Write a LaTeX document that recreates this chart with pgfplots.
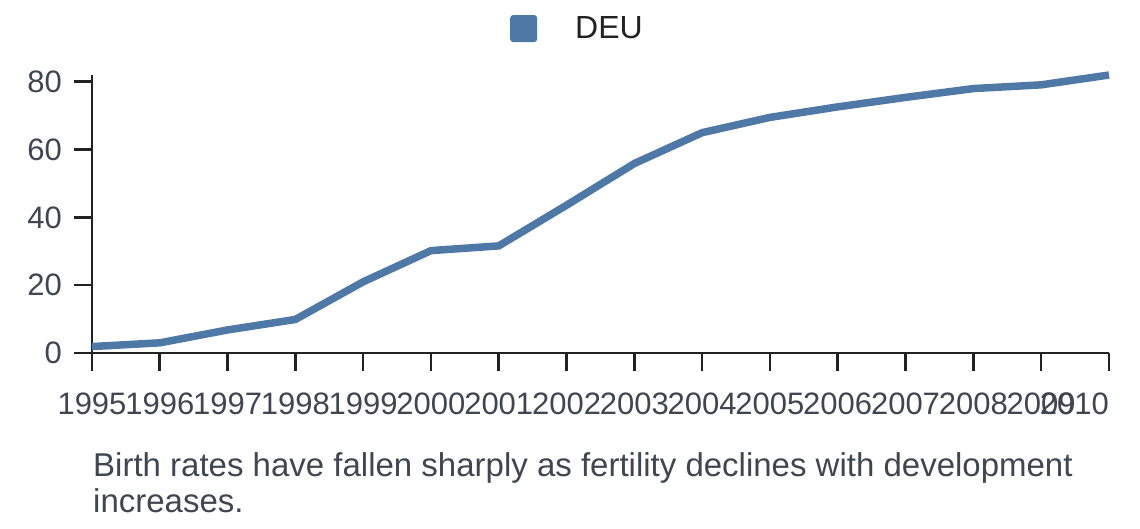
\documentclass[border=0pt]{standalone}
\usepackage{pgfplots}
\pgfplotsset{compat=1.18}
\usepackage{fontspec}
\setmainfont{Liberation Sans}
\definecolor{lineblue}{HTML}{4E79A7}
\definecolor{ticktext}{HTML}{3F4652}
\definecolor{axisdark}{HTML}{222222}
\begin{document}
\begin{tikzpicture}
\begin{axis}[
  scale only axis,
  width=1017pt, height=278pt,
  at={(0pt,0pt)}, anchor=south west,
  xmin=1995, xmax=2010, ymin=0, ymax=82,
  axis x line=bottom, axis y line=left,
  axis line style={-, line width=2.6pt, draw=axisdark},
  xtick={1995,...,2010},
  xticklabels={1995,1996,1997,1998,1999,2000,2001,2002,2003,2004,2005,2006,2007,2008,2009,\makebox[0pt][r]{2010}},
  ytick={0,20,40,60,80},
  tick align=outside,
  major tick length=18pt,
  tick style={line width=2.6pt, draw=axisdark},
  /pgf/number format/assume math mode=true,
  tick label style={font=\fontsize{31}{37}\selectfont, text=ticktext},
  xticklabel style={inner sep=0pt, yshift=-22pt},
  yticklabel style={inner sep=0pt, xshift=-12pt},
  legend style={draw=none, fill=none, at={(0.411,1.167)}, anchor=west,
    font=\fontsize{32}{38}\selectfont, text=axisdark, inner sep=0pt,
    nodes={inner sep=0pt}, /tikz/every odd column/.append style={column sep=38pt}},
  legend image code/.code={\fill[draw=none, rounded corners=3pt] (0pt,-13.5pt) rectangle (27pt,13.5pt);},
  clip=false,
]
\addplot[color=lineblue, line width=7.5pt] coordinates {
(1995,1.9) (1996,3.0) (1997,6.8) (1998,9.9) (1999,21.0) (2000,30.2) (2001,31.6)
(2002,43.6) (2003,55.9) (2004,65.0) (2005,69.5) (2006,72.6) (2007,75.4)
(2008,78.0) (2009,79.1) (2010,82.0)};
\addlegendentry{DEU}
\end{axis}
\node[anchor=base west, align=left, inner sep=0pt, text=ticktext,
  font=\fontsize{33}{36.7}\selectfont] at (1pt,-159.7pt)
  {Birth rates have fallen sharply as fertility declines with development\\increases.};
\pgfresetboundingbox
\path (-92pt,-175pt) rectangle (1048pt,353pt);
\end{tikzpicture}
\end{document}
